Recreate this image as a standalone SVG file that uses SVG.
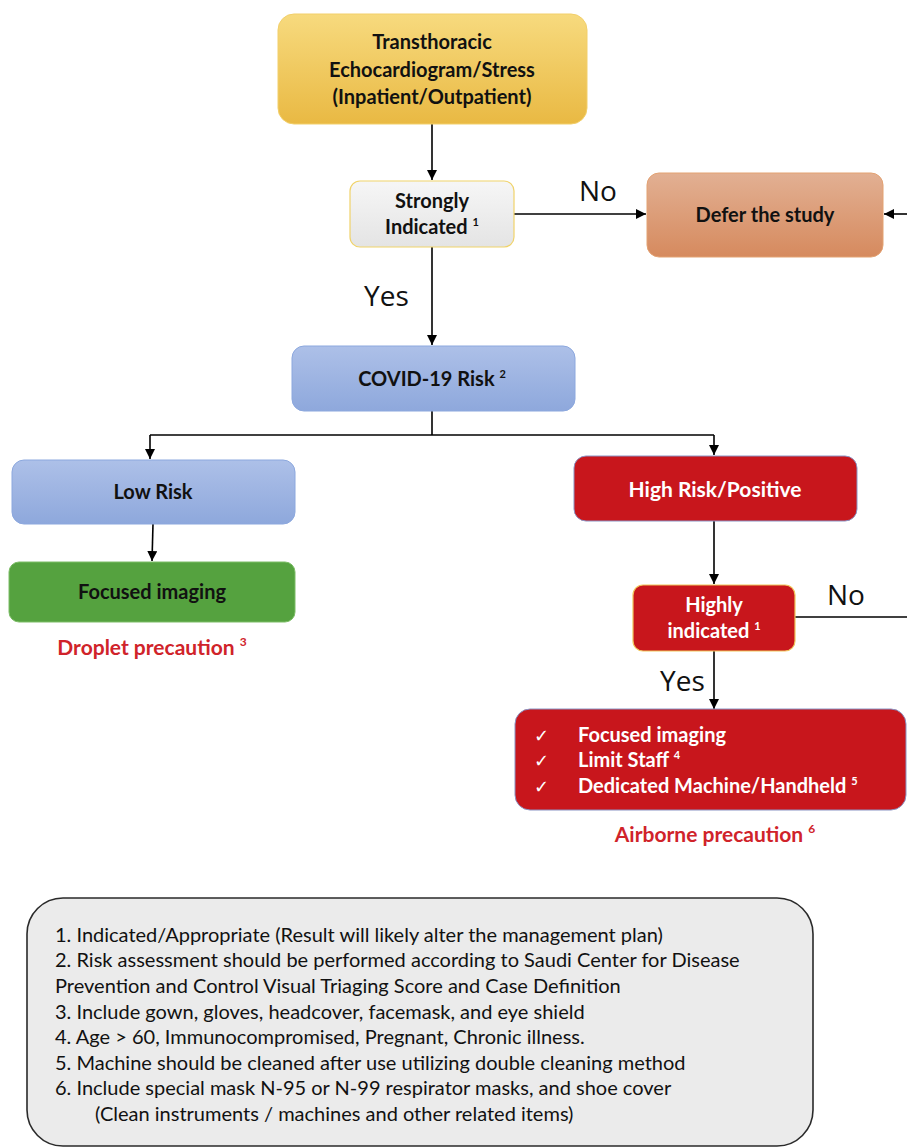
<svg xmlns="http://www.w3.org/2000/svg" width="907" height="1148" viewBox="0 0 907 1148">
<defs>
<linearGradient id="gYellow" x1="0" y1="0" x2="0" y2="1"><stop offset="0" stop-color="#f7da7e"/><stop offset="1" stop-color="#e9b943"/></linearGradient>
<linearGradient id="gGray" x1="0" y1="0" x2="0" y2="1"><stop offset="0" stop-color="#f6f6f6"/><stop offset="1" stop-color="#e4e4e4"/></linearGradient>
<linearGradient id="gOrange" x1="0" y1="0" x2="0" y2="1"><stop offset="0" stop-color="#e2b093"/><stop offset="1" stop-color="#d68a5e"/></linearGradient>
<linearGradient id="gBlue" x1="0" y1="0" x2="0" y2="1"><stop offset="0" stop-color="#adc0e8"/><stop offset="1" stop-color="#8ea8dc"/></linearGradient>
<marker id="arr" viewBox="0 0 10 10" refX="10" refY="5" markerWidth="10" markerHeight="10" markerUnits="userSpaceOnUse" orient="auto">
<path d="M0,0 L10,5 L0,10 z" fill="#000"/>
</marker>
<style>
.t{font-family:Lato,"Open Sans",sans-serif;font-weight:bold;font-size:20px;fill:#111;text-anchor:middle}
.w{fill:#fff}
.s{text-anchor:start}
.lbl{font-family:"Open Sans",sans-serif;font-size:28px;fill:#111}
.red{font-family:Lato,"Open Sans",sans-serif;font-weight:bold;font-size:21px;fill:#d0232a;text-anchor:middle}
.fn{font-family:Lato,"Open Sans",sans-serif;font-size:20px;fill:#111}
.sup{font-size:11px}
.ln{stroke:#000;stroke-width:1.6;fill:none}
</style>
</defs>

<g id="connectors">
<line class="ln" x1="432" y1="124" x2="432" y2="180" marker-end="url(#arr)"/>
<line class="ln" x1="514" y1="214" x2="646" y2="214" marker-end="url(#arr)"/>
<line class="ln" x1="907" y1="214" x2="884" y2="214" marker-end="url(#arr)"/>
<line class="ln" x1="432" y1="247" x2="432" y2="345" marker-end="url(#arr)"/>
<polyline class="ln" points="432,411 432,435"/>
<polyline class="ln" points="150,435 714,435"/>
<line class="ln" x1="150" y1="435" x2="150" y2="459" marker-end="url(#arr)"/>
<line class="ln" x1="714" y1="435" x2="714" y2="455" marker-end="url(#arr)"/>
<line class="ln" x1="153" y1="524" x2="152" y2="561" marker-end="url(#arr)"/>
<line class="ln" x1="714" y1="521" x2="714" y2="584" marker-end="url(#arr)"/>
<line class="ln" x1="795" y1="617" x2="907" y2="617"/>
<line class="ln" x1="714" y1="651" x2="714" y2="709" marker-end="url(#arr)"/>
<text class="lbl" x="579" y="201">No</text>
<text class="lbl" x="364" y="306">Yes</text>
<text class="lbl" x="827" y="605">No</text>
<text class="lbl" x="660" y="691">Yes</text>
</g>

<g id="n-tte">
<rect x="278" y="14" width="309" height="110" rx="16" fill="url(#gYellow)" stroke="#f2cf6a" stroke-width="1"/>
<text class="t" x="432" y="49">Transthoracic</text>
<text class="t" x="432" y="77">Echocardiogram/Stress</text>
<text class="t" x="432" y="104">(Inpatient/Outpatient)</text>
</g>

<g id="n-strongly">
<rect x="350" y="181" width="164" height="66" rx="10" fill="url(#gGray)" stroke="#f0d36a" stroke-width="1.2"/>
<text class="t" x="432" y="208">Strongly</text>
<text class="t" x="432" y="234">Indicated <tspan class="sup" dy="-8">1</tspan></text>
</g>

<g id="n-defer">
<rect x="647" y="173" width="236" height="84" rx="12" fill="url(#gOrange)" stroke="#e3a273" stroke-width="1"/>
<text class="t" x="765" y="222">Defer the study</text>
</g>

<g id="n-covid">
<rect x="292" y="346" width="283" height="65" rx="12" fill="url(#gBlue)" stroke="#8ca8de" stroke-width="1"/>
<text class="t" x="432" y="386">COVID-19 Risk <tspan class="sup" dy="-8">2</tspan></text>
</g>

<g id="n-low">
<rect x="12" y="460" width="283" height="64" rx="12" fill="url(#gBlue)" stroke="#8ca8de" stroke-width="1"/>
<text class="t" x="153" y="499">Low Risk</text>
</g>

<g id="n-focused-low">
<rect x="9" y="562" width="286" height="60" rx="10" fill="#55a23f" stroke="#7cbd66" stroke-width="1"/>
<text class="t" x="152" y="599">Focused imaging</text>
</g>
<text class="red" x="152" y="655">Droplet precaution <tspan font-size="12px" dy="-9">3</tspan></text>

<g id="n-high">
<rect x="574" y="456" width="283" height="65" rx="12" fill="#c8161c" stroke="#8a94c4" stroke-width="1"/>
<text class="t w" x="715" y="497" style="font-size:21px">High Risk/Positive</text>
</g>

<g id="n-highly">
<rect x="633" y="585" width="162" height="66" rx="10" fill="#c8161c" stroke="#f0c55a" stroke-width="1.2"/>
<text class="t w" x="714" y="612">Highly</text>
<text class="t w" x="714" y="638">indicated <tspan class="sup" dy="-8">1</tspan></text>
</g>

<g id="n-airborne">
<rect x="515" y="709" width="391" height="101" rx="15" fill="#c8161c" stroke="#8a94c4" stroke-width="1"/>
<g style="font-family:'DejaVu Sans',sans-serif;font-size:18px;fill:#fff">
<text x="534" y="742">✓</text>
<text x="534" y="767">✓</text>
<text x="534" y="793">✓</text>
</g>
<text class="t w s" x="578" y="742">Focused imaging</text>
<text class="t w s" x="578" y="767">Limit Staff <tspan class="sup" dy="-8">4</tspan></text>
<text class="t w s" x="578" y="793">Dedicated Machine/Handheld <tspan class="sup" dy="-8">5</tspan></text>
</g>
<text class="red" x="715" y="842">Airborne precaution <tspan font-size="12px" dy="-9">6</tspan></text>

<g id="n-footnotes">
<rect x="27" y="898" width="786" height="248" rx="36" fill="#ebebeb" stroke="#2a2a2a" stroke-width="1.6"/>
<text class="fn" x="55" y="942">1. Indicated/Appropriate (Result will  likely alter the management plan)</text>
<text class="fn" x="55" y="967">2. Risk assessment should be performed according to Saudi Center for Disease</text>
<text class="fn" x="55" y="993">Prevention and Control Visual Triaging Score and Case Definition</text>
<text class="fn" x="55" y="1019">3. Include gown, gloves, headcover, facemask, and eye shield</text>
<text class="fn" x="55" y="1044">4. Age &gt; 60, Immunocompromised, Pregnant, Chronic illness.</text>
<text class="fn" x="55" y="1070">5. Machine should be cleaned after use utilizing double cleaning method</text>
<text class="fn" x="55" y="1095">6. Include special mask N-95 or N-99 respirator masks,  and shoe cover</text>
<text class="fn" x="95" y="1121">(Clean instruments / machines and other related items)</text>
</g>
</svg>
